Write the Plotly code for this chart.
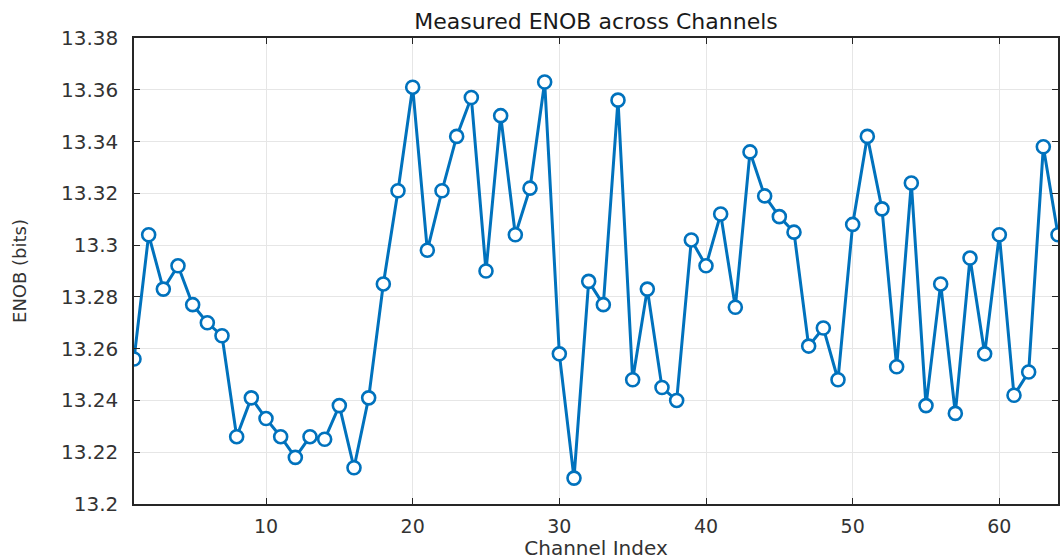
import plotly.graph_objects as go

channels = list(range(1, 65))
enob = [
    13.256, 13.304, 13.283, 13.292, 13.277, 13.270, 13.265, 13.226, 13.241, 13.233,
    13.226, 13.218, 13.226, 13.225, 13.238, 13.214, 13.241, 13.285, 13.321, 13.361,
    13.298, 13.321, 13.342, 13.357, 13.290, 13.350, 13.304, 13.322, 13.363, 13.258,
    13.210, 13.286, 13.277, 13.356, 13.248, 13.283, 13.245, 13.240, 13.302, 13.292,
    13.312, 13.276, 13.336, 13.319, 13.311, 13.305, 13.261, 13.268, 13.248, 13.308,
    13.342, 13.314, 13.253, 13.324, 13.238, 13.285, 13.235, 13.295, 13.258, 13.304,
    13.242, 13.251, 13.338, 13.304,
]
x_ticks = [10, 20, 30, 40, 50, 60]
y_ticks = [13.2, 13.22, 13.24, 13.26, 13.28, 13.3, 13.32, 13.34, 13.36, 13.38]
y_tick_labels = ["13.2", "13.22", "13.24", "13.26", "13.28", "13.3", "13.32", "13.34", "13.36", "13.38"]

BLUE = "#0072BD"
AXIS = "#262626"
GRID = "#e6e6e6"
FONT = "DejaVu Sans"
TXT = "#333333"

fig = go.Figure()
fig.add_trace(go.Scatter(
    x=channels, y=enob, mode="lines+markers",
    line=dict(color=BLUE, width=3),
    marker=dict(symbol="circle", size=13, color="white", line=dict(color=BLUE, width=2.6)),
    cliponaxis=True,
))

fig.update_layout(
    width=1060, height=560,
    margin=dict(l=134, r=2, t=38, b=56),
    paper_bgcolor="white", plot_bgcolor="white",
    showlegend=False,
    font=dict(family=FONT, color=AXIS, size=20),
    title=dict(text="Measured ENOB across Channels", x=(134 + 1058) / 2 / 1060, xanchor="center",
               y=1 - 21 / 560, yanchor="middle", font=dict(family=FONT, size=22, color="#1a1a1a")),
)
fig.update_xaxes(
    range=[1, 64], tickmode="array", tickvals=x_ticks,
    showgrid=True, gridcolor=GRID, gridwidth=1,
    showline=True, linecolor=AXIS, linewidth=1.5, mirror="ticks",
    ticks="inside", ticklen=6, tickcolor=AXIS, zeroline=False,
    ticklabelstandoff=4, automargin=False,
    tickfont=dict(family=FONT, size=19, color=TXT),
    title=dict(text="Channel Index", standoff=14, font=dict(family=FONT, size=20, color=TXT)),
)
fig.update_yaxes(
    range=[13.2, 13.38], tickmode="array", tickvals=y_ticks, ticktext=y_tick_labels,
    showgrid=True, gridcolor=GRID, gridwidth=1,
    showline=True, linecolor=AXIS, linewidth=1.5, mirror="ticks",
    ticks="inside", ticklen=6, tickcolor=AXIS, zeroline=False,
    ticklabelstandoff=10, automargin=False,
    tickfont=dict(family=FONT, size=20, color=TXT),
    title=dict(text="ENOB (bits)", standoff=30, font=dict(family=FONT, size=18, color=TXT)),
)

fig.write_html("out.html")
